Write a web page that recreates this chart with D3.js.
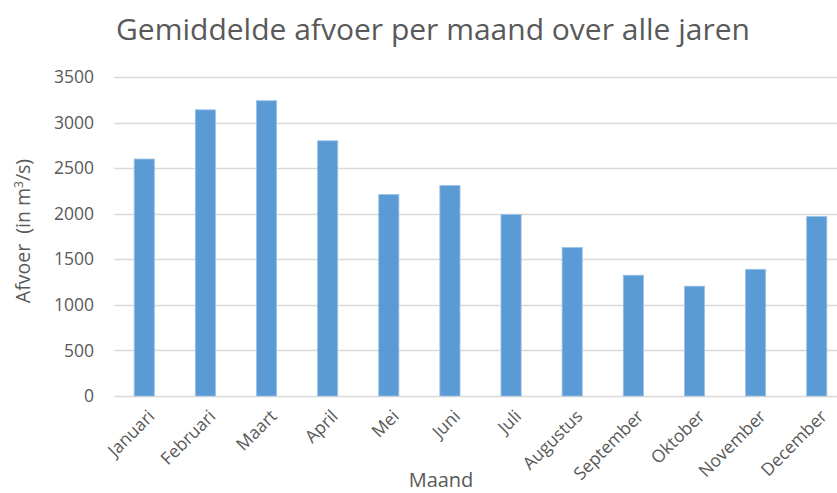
<!DOCTYPE html>
<meta charset="utf-8">
<style>
html, body { margin: 0; padding: 0; background: #fff; }
svg text { font-family: "Open Sans", "Liberation Sans", sans-serif; fill: #595959; }
</style>
<body>
<script src="https://d3js.org/d3.v7.min.js"></script>
<script>

var width = 837,
    height = 493;

var maanden = ["Januari","Februari","Maart","April","Mei","Juni","Juli","Augustus","September","Oktober","November","December"];
var afvoer = [2600, 3140, 3240, 2800, 2210, 2310, 1990, 1630, 1325, 1205, 1390, 1970];
var yTicks = [0, 500, 1000, 1500, 2000, 2500, 3000, 3500];

var plot = {left: 114, right: 847, top: 77, bottom: 396};

var svg = d3.select("body").append("svg")
    .attr("width", width)
    .attr("height", height);

var x = d3.scaleBand()
    .domain(maanden)
    .range([plot.left, plot.right])
    .paddingInner(0.67)
    .paddingOuter(0.33);

var y = d3.scaleLinear()
    .domain([0, 3500])
    .range([plot.bottom, plot.top]);

// gridlines
svg.append("g").attr("class", "grid")
  .selectAll("line")
  .data(yTicks)
  .enter().append("line")
    .attr("x1", plot.left)
    .attr("x2", plot.right)
    .attr("y1", function(d){ return Math.round(y(d)) + 0.5; })
    .attr("y2", function(d){ return Math.round(y(d)) + 0.5; })
    .attr("stroke", "#d9d9d9")
    .attr("stroke-width", 1.3);

// y tick labels
svg.append("g")
  .selectAll("text")
  .data(yTicks)
  .enter().append("text")
    .attr("x", 94)
    .attr("y", function(d){ return y(d); })
    .attr("dy", "0.35em")
    .attr("text-anchor", "end")
    .style("font-size", "17.5px")
    .text(function(d){ return d; });

// bars
svg.append("g")
  .selectAll("rect")
  .data(afvoer)
  .enter().append("rect")
    .attr("x", function(d, i){ return x(maanden[i]); })
    .attr("y", function(d){ return y(d); })
    .attr("width", x.bandwidth())
    .attr("height", function(d){ return y(0) - y(d); })
    .attr("fill", "#5b9bd5")
    .attr("stroke", "#9cc3e6")
    .attr("stroke-width", 0.8);

// x labels
svg.append("g")
  .selectAll("text")
  .data(maanden)
  .enter().append("text")
    .attr("transform", function(d){
      return "translate(" + (x(d) + x.bandwidth()/2 + 7) + "," + 413 + ") rotate(-45)";
    })
    .attr("text-anchor", "end")
    .attr("dy", "0.35em")
    .style("font-size", "17.5px")
    .text(function(d){ return d; });

// title
svg.append("text")
    .attr("x", 433)
    .attr("y", 40)
    .attr("text-anchor", "middle")
    .style("font-size", "30px")
    .text("Gemiddelde afvoer per maand over alle jaren");

// axis titles
var yt = svg.append("text")
    .attr("transform", "translate(30,231) rotate(-90)")
    .attr("text-anchor", "middle")
    .style("font-size", "19.5px")
    .style("white-space", "pre");
yt.append("tspan").text("Afvoer  (in m");
yt.append("tspan").attr("dy", -7).style("font-size", "12px").text("3");
yt.append("tspan").attr("dy", 7).text("/s)");

svg.append("text")
    .attr("x", 441)
    .attr("y", 487)
    .attr("text-anchor", "middle")
    .style("font-size", "20px")
    .text("Maand");

</script>
</body>
